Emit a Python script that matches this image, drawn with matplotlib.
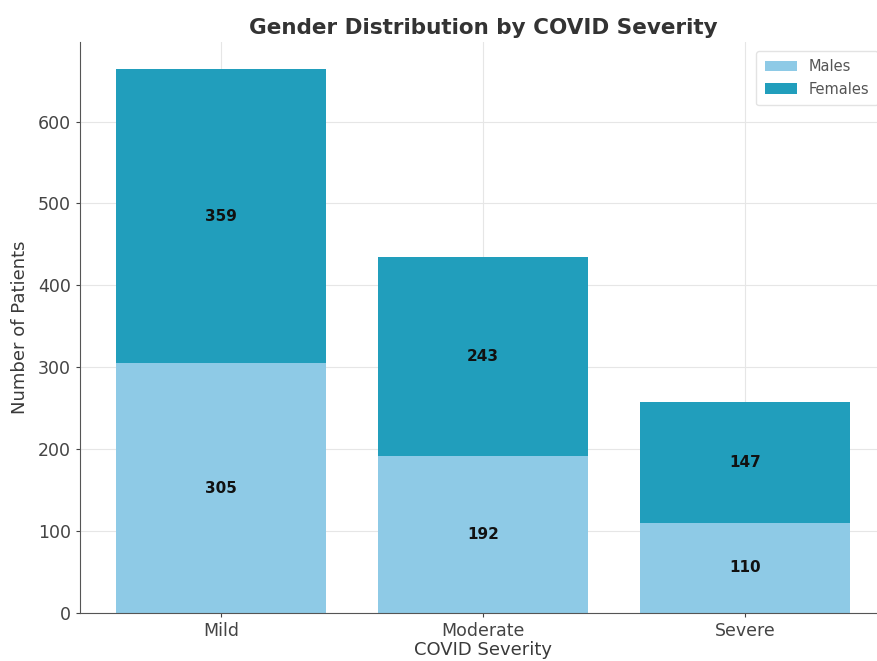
import numpy as np
import matplotlib
matplotlib.use("Agg")
import matplotlib.pyplot as plt

# Patient counts per severity level
severity = ["Mild", "Moderate", "Severe"]
males = [305, 192, 110]
females = [359, 243, 147]

MALE_COLOR = "#8ECAE6"
FEMALE_COLOR = "#219EBC"

plt.rcParams["font.family"] = "DejaVu Sans"
fig = plt.figure(figsize=(8.77, 6.61), dpi=100)
ax = fig.add_axes([0.091, 0.0726, 0.92, 0.864])

x = np.arange(len(severity))
ax.bar(x, males, width=0.8, color=MALE_COLOR, label="Males", zorder=2)
ax.bar(x, females, width=0.8, bottom=males, color=FEMALE_COLOR,
       label="Females", zorder=2)

# Value labels in the middle of each segment
for i in range(len(severity)):
    ax.text(x[i], males[i] / 2, str(males[i]), ha="center", va="center",
            fontsize=11, fontweight="bold", color="#111111", zorder=3)
    ax.text(x[i], males[i] + females[i] / 2, str(females[i]), ha="center",
            va="center", fontsize=11, fontweight="bold", color="#111111", zorder=3)

ax.set_xticks(x)
ax.set_xticklabels(severity)
ax.set_title("Gender Distribution by COVID Severity", fontsize=15.5,
             fontweight="bold", color="#333333", pad=6)
ax.set_xlabel("COVID Severity", fontsize=13, color="#3a3a3a", labelpad=1)
ax.set_ylabel("Number of Patients", fontsize=13, color="#3a3a3a", labelpad=6)

ax.grid(True, color="#e6e6e6", linewidth=0.8, zorder=0)
ax.set_axisbelow(True)
for side in ["top", "right"]:
    ax.spines[side].set_visible(False)
for side in ["left", "bottom"]:
    ax.spines[side].set_color("#555555")
ax.tick_params(colors="#444444", labelsize=12.5, length=3)

leg = ax.legend(loc="upper right", fontsize=10.5, frameon=True,
                borderpad=0.6, handlelength=2.2, borderaxespad=0.6)
leg.get_frame().set_edgecolor("#dddddd")
for t in leg.get_texts():
    t.set_color("#555555")

fig.savefig("out.png", dpi=100)
